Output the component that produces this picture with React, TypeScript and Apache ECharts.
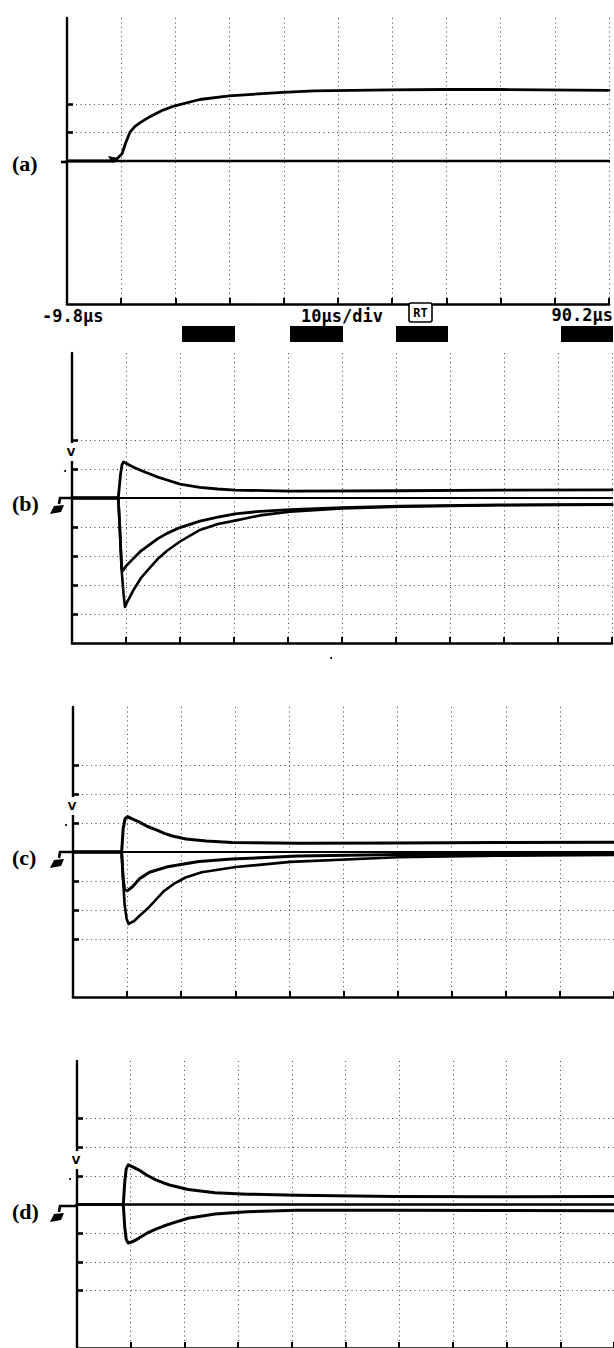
import React, { useEffect, useRef } from "react";
import * as echarts from "echarts";

const W = 614;
const H = 1348;

// Axis scales: time in µs (10 µs/div), vertical in screen divisions
const T_MIN = -9.8;
const T_MAX = 90.2;
const T_STEP = 10;
const V_MIN = -5;
const V_MAX = 5;

// Tick labels / annotations
const panelLabels = ["(a)", "(b)", "(c)", "(d)"];
const timeStartLabel = "-9.8µs";
const timeScaleLabel = "10µs/div";
const timeEndLabel = "90.2µs";
const modeLabel = "RT";

// Panel (a): step response
const aZeroT = [-9.8, 90.2];
const aZeroV = [0, 0];
const aStepT = [-9.8, -1.0, 0.35, 1.0, 1.8, 2.7, 3.7, 5.5, 7.9, 10.1, 14.7, 20.1, 30.0, 35.8, 50.0, 59.8, 70.3, 90.2];
const aStepV = [0, 0, 0.25, 0.62, 1.0, 1.2, 1.34, 1.55, 1.78, 1.93, 2.15, 2.28, 2.4, 2.45, 2.49, 2.5, 2.5, 2.47];

// Panel (b)
const bZeroT = [-9.8, 90.2];
const bZeroV = [0, 0];
const bUpT = [-9.8, -1.23, -0.82, -0.54, -0.26, 0.2, 1.5, 3.0, 4.64, 6.1, 7.8, 10.2, 13.9, 17.2, 20.4, 30.6, 50.9, 69.5, 90.2];
const bUpV = [0, 0, 0.8, 1.15, 1.24, 1.2, 1.07, 0.95, 0.83, 0.72, 0.62, 0.48, 0.37, 0.31, 0.27, 0.24, 0.25, 0.27, 0.28];
const bInT = [-9.8, -1.23, -1.0, -0.76, -0.6, -0.36, 0.2, 1.5, 3.0, 4.64, 6.1, 7.8, 10.2, 13.9, 17.2, 20.4, 25.0, 30.6, 40.2, 50.9, 69.5, 90.2];
const bInV = [0, 0, -0.8, -1.8, -2.45, -2.5, -2.35, -2.1, -1.82, -1.6, -1.4, -1.22, -1.02, -0.8, -0.66, -0.55, -0.46, -0.4, -0.33, -0.28, -0.24, -0.22];
const bOutT = [-9.8, -1.23, -0.91, -0.6, -0.26, 0.01, 0.39, 1.5, 3.0, 4.64, 6.1, 7.8, 10.2, 13.9, 17.2, 20.4, 25.0, 30.6, 40.2, 50.9, 69.5, 90.2];
const bOutV = [0, 0, -1.2, -2.5, -3.3, -3.76, -3.6, -3.2, -2.75, -2.4, -2.1, -1.82, -1.5, -1.1, -0.9, -0.78, -0.6, -0.47, -0.36, -0.3, -0.25, -0.23];

// Panel (c)
const cZeroT = [-9.8, 90.2];
const cZeroV = [0, 0];
const cUpT = [-9.8, -0.81, -0.53, -0.17, 0.29, 1.03, 2.49, 3.96, 5.61, 7.08, 8.55, 11.1, 14.8, 19.6, 31.85, 50.2, 68.6, 90.2];
const cUpV = [0, 0, 0.8, 1.15, 1.22, 1.15, 1.03, 0.88, 0.76, 0.64, 0.55, 0.45, 0.38, 0.33, 0.3, 0.31, 0.33, 0.34];
const cInT = [-9.8, -0.81, -0.53, -0.26, 0.29, 1.2, 2.49, 4.33, 7.45, 10.4, 13.5, 19.6, 25.8, 31.85, 50.2, 90.2];
const cInV = [0, 0, -0.9, -1.3, -1.33, -1.2, -0.92, -0.7, -0.52, -0.42, -0.33, -0.24, -0.19, -0.14, -0.09, -0.06];
const cOutT = [-9.8, -0.81, -0.53, -0.26, 0.11, 0.48, 1.5, 2.5, 4.0, 5.5, 7.0, 9.0, 11.0, 14.0, 20.3, 30.4, 50.2, 68.6, 90.2];
const cOutV = [0, 0, -1.0, -1.8, -2.3, -2.48, -2.38, -2.2, -1.95, -1.65, -1.35, -1.08, -0.88, -0.7, -0.52, -0.34, -0.18, -0.13, -0.1];

// Panel (d)
const dZeroT = [-9.8, 90.2];
const dZeroV = [0, 0];
const dUpT = [-9.8, -1.18, -0.9, -0.63, -0.26, 0.48, 1.76, 3.23, 4.88, 6.35, 7.81, 10.9, 15.9, 21.9, 31.1, 49.5, 67.8, 90.2];
const dUpV = [0, 0, 0.8, 1.25, 1.38, 1.32, 1.2, 1.02, 0.86, 0.75, 0.66, 0.52, 0.41, 0.36, 0.32, 0.28, 0.27, 0.28];
const dLoT = [-9.8, -1.18, -0.9, -0.63, -0.26, 0.48, 1.76, 3.23, 4.88, 6.35, 7.81, 10.9, 15.9, 21.9, 31.1, 49.5, 67.8, 90.2];
const dLoV = [0, 0, -0.8, -1.22, -1.34, -1.3, -1.17, -1.0, -0.86, -0.75, -0.66, -0.48, -0.33, -0.25, -0.2, -0.2, -0.21, -0.22];

// left-axis tick marks (divisions) per panel
const aTicks = [1, 2];
const bTicks = [2, 1, -1, -2, -3, -4];
const cTicks = [3, 2, 1, -1, -2, -3];
const dTicks = [3, 2, 1, -1, -2, -3];

// Layout of the four screens
const panels = [
  { left: 67, top: 18, width: 542, height: 286 },
  { left: 72, top: 353, width: 540, height: 290 },
  { left: 73, top: 707, width: 545, height: 290 },
  { left: 77, top: 1061, width: 545, height: 290 },
];

const pairs = (t: number[], v: number[]) => t.map((x, i) => [x, v[i]]);

const traceSets = [
  [
    { t: aZeroT, v: aZeroV, w: 2.4 },
    { t: aStepT, v: aStepV, w: 2.8 },
  ],
  [
    { t: bZeroT, v: bZeroV, w: 2.2 },
    { t: bUpT, v: bUpV, w: 2.8 },
    { t: bInT, v: bInV, w: 2.8 },
    { t: bOutT, v: bOutV, w: 2.6 },
  ],
  [
    { t: cZeroT, v: cZeroV, w: 2.2 },
    { t: cUpT, v: cUpV, w: 3.0 },
    { t: cInT, v: cInV, w: 3.0 },
    { t: cOutT, v: cOutV, w: 2.6 },
  ],
  [
    { t: dZeroT, v: dZeroV, w: 2.4 },
    { t: dUpT, v: dUpV, w: 3.0 },
    { t: dLoT, v: dLoV, w: 3.0 },
  ],
];
const tickSets = [aTicks, bTicks, cTicks, dTicks];

export default function App() {
  const ref = useRef<HTMLDivElement>(null);

  useEffect(() => {
    document.body.style.margin = "0";
    if (!ref.current) return;
    const chart = echarts.init(ref.current, undefined, { renderer: "svg", width: W, height: H });

    const dotted = { color: "#444", width: 1, type: [1, 3.5] as any };

    const grid = panels.map((p) => ({ left: p.left, top: p.top, width: p.width, height: p.height, containLabel: false }));
    const xAxis = panels.map((_, i) => ({
      type: "value",
      gridIndex: i,
      min: T_MIN,
      max: T_MAX,
      interval: T_STEP,
      axisLine: { show: true, onZero: false, lineStyle: { color: "#000", width: 2.6 } },
      axisTick: { show: true, inside: true, length: 6, lineStyle: { color: "#000", width: 2 } },
      axisLabel: { show: false },
      splitLine: { show: true, lineStyle: dotted },
    }));
    const yAxis = panels.map((_, i) => ({
      type: "value",
      gridIndex: i,
      min: V_MIN,
      max: V_MAX,
      interval: 1,
      axisLine: { show: true, onZero: false, lineStyle: { color: "#000", width: 2.4 } },
      axisTick: { show: true, inside: true, length: 6, customValues: tickSets[i], lineStyle: { color: "#000", width: 2.6 } },
      axisLabel: { show: false },
      splitLine: { show: true, lineStyle: dotted },
    }));

    const series: any[] = [];
    traceSets.forEach((set, i) => {
      set.forEach((tr) => {
        series.push({
          type: "line",
          xAxisIndex: i,
          yAxisIndex: i,
          data: pairs(tr.t, tr.v),
          showSymbol: false,
          symbol: "none",
          lineStyle: { color: "#000", width: tr.w, join: "round", cap: "round" },
          z: 3,
        });
      });
    });

    const graphic: any[] = [];
    const zeroY = (p: any) => p.top + p.height / 2;

    // panel letters
    panels.forEach((p, i) => {
      graphic.push({
        type: "text",
        x: 12,
        y: zeroY(p) + (i === 0 ? 2 : 5),
        z: 100,
        style: {
          text: panelLabels[i],
          font: 'bold 22px "Liberation Serif", "DejaVu Serif", serif',
          fill: "#000",
          align: "left",
          verticalAlign: "middle",
        },
      });
    });

    // scope annotation under panel (a)
    const monoFont = 'bold 17px "DejaVu Sans Mono", "Liberation Mono", monospace';
    graphic.push(
      { type: "text", x: 42, y: 316, z: 100, style: { text: timeStartLabel, font: monoFont, fill: "#000", align: "left", verticalAlign: "middle" } },
      { type: "text", x: 301, y: 316, z: 100, style: { text: timeScaleLabel, font: monoFont, fill: "#000", align: "left", verticalAlign: "middle" } },
      { type: "text", x: 613, y: 315, z: 100, style: { text: timeEndLabel, font: monoFont, fill: "#000", align: "right", verticalAlign: "middle" } },
      { type: "rect", z: 100, shape: { x: 409, y: 303, width: 23, height: 19, r: 2 }, style: { fill: "#fff", stroke: "#000", lineWidth: 1.6 } },
      { type: "text", x: 420.5, y: 313, z: 101, style: { text: modeLabel, font: 'bold 12px "DejaVu Sans Mono", monospace', fill: "#000", align: "center", verticalAlign: "middle" } }
    );
    [[182, 53], [290, 53], [396, 52], [561, 52]].forEach(([x, w]) => {
      graphic.push({ type: "rect", z: 100, shape: { x, y: 326, width: w, height: 16 }, style: { fill: "#000" } });
    });

    // trigger marker & zero indicator in (a)
    const pa = panels[0];
    const za = zeroY(pa);
    graphic.push(
      { type: "polygon", z: 100, shape: { points: [[108, za - 5], [118, za - 3], [112, za + 2]] }, style: { fill: "#000" } },
      { type: "line", z: 100, shape: { x1: pa.left - 6, y1: za + 1, x2: pa.left, y2: za + 1 }, style: { stroke: "#000", lineWidth: 2.6 } }
    );

    // ground markers, V markers and axis gaps in (b)-(d)
    panels.slice(1).forEach((p) => {
      const z0 = zeroY(p);
      const ax = p.left;
      graphic.push(
        { type: "rect", z: 100, shape: { x: ax - 3, y: z0 - 55, width: 6, height: 18 }, style: { fill: "#fff" } },
        { type: "text", x: ax - 1, y: z0 - 46, z: 101, style: { text: "V", font: 'bold 11px "DejaVu Sans", sans-serif', fill: "#000", align: "center", verticalAlign: "middle" } },
        { type: "circle", z: 101, shape: { cx: ax - 7, cy: z0 - 27, r: 1 }, style: { fill: "#000" } },
        { type: "polyline", z: 100, shape: { points: [[ax, z0], [60, z0], [59, z0 + 6]] }, style: { stroke: "#000", lineWidth: 2.6, fill: null } },
        { type: "polygon", z: 100, shape: { points: [[50, z0 + 16], [54, z0 + 8], [64, z0 + 7], [61, z0 + 14]] }, style: { fill: "#000" } }
      );
    });

    // small speck below panel (b)
    graphic.push({ type: "circle", z: 100, shape: { cx: 331, cy: 658, r: 1 }, style: { fill: "#000" } });

    chart.setOption({
      animation: false,
      backgroundColor: "#fff",
      grid,
      xAxis,
      yAxis,
      series,
      graphic,
    });

    return () => chart.dispose();
  }, []);

  return <div ref={ref} style={{ position: "absolute", left: 0, top: 0, width: W, height: H }} />;
}
